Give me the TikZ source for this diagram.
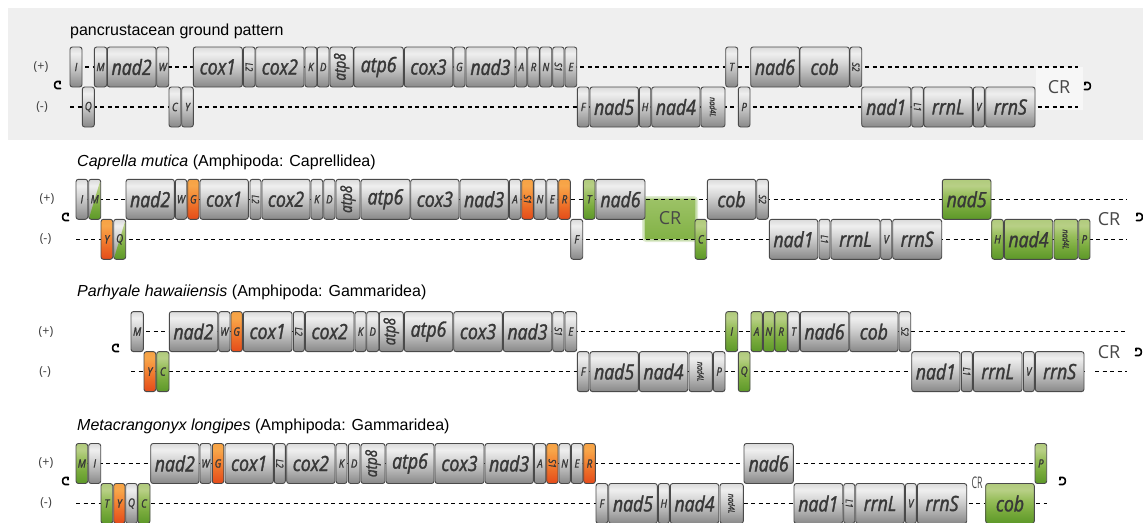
\documentclass[tikz,border=0pt]{standalone}
\usepackage{fontspec}
\setmainfont{Liberation Sans}
\newfontfamily\genefont[FakeStretch=0.84,FakeBold=1.6]{Open Sans}
\newfontfamily\labfont{Open Sans}

% colours
\definecolor{panelbg}{HTML}{EFEFEF}
\definecolor{crbg}{HTML}{F7F7F7}
\definecolor{boxline}{HTML}{4A4A4A}
\definecolor{labtext}{HTML}{383838}
\definecolor{gb0}{HTML}{888888}
\definecolor{gb1}{HTML}{B0B0B0}
\definecolor{gb2}{HTML}{D6D6D6}
\definecolor{gb3}{HTML}{EFEFEF}
\definecolor{gb4}{HTML}{DADADA}
\definecolor{ob0}{HTML}{E44B1A}
\definecolor{ob1}{HTML}{EC6A26}
\definecolor{ob2}{HTML}{F58C38}
\definecolor{ob3}{HTML}{F8A64A}
\definecolor{ob4}{HTML}{F6A244}
\definecolor{gr0}{HTML}{5C9828}
\definecolor{gr1}{HTML}{78AA3C}
\definecolor{gr2}{HTML}{98BE5C}
\definecolor{gr3}{HTML}{B8D086}
\definecolor{gr4}{HTML}{B0CA7C}
\definecolor{crgreen}{HTML}{82B246}
\definecolor{crgreenlt}{HTML}{9CC266}

% glossy vertical shadings for the gene boxes
\pgfdeclareverticalshading{greysh}{100bp}{color(0bp)=(gb0); color(25bp)=(gb0); color(40bp)=(gb1); color(55bp)=(gb2); color(67bp)=(gb3); color(75bp)=(gb4); color(100bp)=(gb4)}
\pgfdeclareverticalshading{orangesh}{100bp}{color(0bp)=(ob0); color(25bp)=(ob0); color(40bp)=(ob1); color(55bp)=(ob2); color(67bp)=(ob3); color(75bp)=(ob4); color(100bp)=(ob4)}
\pgfdeclareverticalshading{greensh}{100bp}{color(0bp)=(gr0); color(25bp)=(gr0); color(40bp)=(gr1); color(55bp)=(gr2); color(67bp)=(gr3); color(75bp)=(gr4); color(100bp)=(gr4)}

\tikzset{
  boxborder/.style={draw=boxline, line width=0.9pt, rounded corners=2.4pt},
  genelab/.style={inner sep=0pt, text=labtext},
  strandline/.style={line width=1.2pt, dash pattern=on 4pt off 3.5pt, black},
  strandlab/.style={font=\labfont\fontsize{12.5}{12.5}\selectfont, text=black!75, inner sep=0pt},
  titlelab/.style={font=\fontsize{16}{16}\selectfont, anchor=base west, inner sep=0pt},
  crlab/.style={font=\labfont\fontsize{18}{18}\selectfont, text=black!72, inner sep=0pt},
  hookpen/.style={line width=1.6pt, black, line cap=round}
}

% label formats
\newcommand{\Lg}[1]{{\genefont\itshape\fontsize{21}{21}\selectfont #1}}
\newcommand{\Lt}[1]{{\genefont\itshape\fontsize{11.5}{11.5}\selectfont #1}}
\newcommand{\Lr}[1]{\rotatebox{-90}{\genefont\itshape\fontsize{10}{10}\selectfont #1}}
\newcommand{\Lat}{\rotatebox{90}{\genefont\itshape\fontsize{16}{16}\selectfont atp8}}
\newcommand{\Lfl}{\rotatebox{-90}{\genefont\itshape\fontsize{8.5}{8.5}\selectfont nad4L}}

% gene box: [shading] {name} {x left} {x right} {y centre} {label}
\newcommand{\gbox}[6][grey]{%
  \shade[shading=#1sh, rounded corners=2.4pt] (#3,#5-20) rectangle (#4,#5+20);
  \draw[boxborder] (#3,#5-20) rectangle (#4,#5+20);
  \node[genelab] (#2) at ({(#3+#4)/2},#5) {#6};}
% gene box split diagonally: grey upper left, green lower right
\newcommand{\mixbox}[5]{%
  \shade[shading=greysh, rounded corners=2.4pt] (#2,#4-20) rectangle (#3,#4+20);
  \begin{scope}
    \clip[rounded corners=2.4pt] (#2,#4-20) rectangle (#3,#4+20);
    \shade[shading=greensh] (#2,#4+20) -- (#3,#4-20) -- (#3,#4+20) -- cycle;
  \end{scope}
  \draw[boxborder] (#2,#4-20) rectangle (#3,#4+20);
  \node[genelab] (#1) at ({(#2+#3)/2},#4) {#5};}
% circular genome hooks
\newcommand{\hookleft}[2]{%
  \draw[hookpen] (#1+5,#2-3.5) -- (#1+2,#2-3.5) .. controls (#1-1.2,#2-3.5) and (#1-1.2,#2+3.5) .. (#1+2,#2+3.5) -- (#1+5.5,#2+3.5);
  \draw[hookpen] (#1+5,#2-3.5) -- (#1+5,#2-1.2);}
\newcommand{\hookright}[2]{%
  \draw[hookpen] (#1-5,#2-3.5) -- (#1-2,#2-3.5) .. controls (#1+1.2,#2-3.5) and (#1+1.2,#2+3.5) .. (#1-2,#2+3.5) -- (#1-5.5,#2+3.5);
  \draw[hookpen] (#1-5,#2-3.5) -- (#1-5,#2-1.2);}

\begin{document}
\begin{tikzpicture}[x=1pt,y=-1pt]
\useasboundingbox (0,0) rectangle (1143,522);
\fill[white] (0,0) rectangle (1143,522);

%% ---------------- pancrustacean ground pattern ----------------
\fill[panelbg] (8,8) rectangle (1143,140);
\fill[crbg] (1036,67) rectangle (1083,110);
\node[titlelab] (t1) at (70,35) {pancrustacean ground pattern};
\node[strandlab] (p1plus) at (41,67) {(+)};
\node[strandlab] (p1minus) at (42,107) {(-)};
\draw[strandline] (70,67) -- (1078,67);
\draw[strandline] (70,107) -- (1078,107);
\hookleft{55}{85}
\hookright{1090}{86}
\node[crlab] (p1cr) at (1059,87) {CR};
% (+) strand
\gbox{p1I}{70}{82}{67}{\Lt{I}}
\gbox{p1M}{94.3}{106.7}{67}{\Lt{M}}
\gbox{p1nad2}{107.3}{156}{67}{\Lg{nad2}}
\gbox{p1W}{156.7}{168.7}{67}{\Lt{W}}
\gbox{p1cox1}{193.3}{242.3}{67}{\Lg{cox1}}
\gbox{p1L2}{243.3}{255}{67}{\Lr{L2}}
\gbox{p1cox2}{255.7}{304}{67}{\Lg{cox2}}
\gbox{p1K}{305}{316.7}{67}{\Lt{K}}
\gbox{p1D}{317.3}{329}{67}{\Lt{D}}
\gbox{p1atp8}{330}{353.3}{67}{\Lat}
\gbox{p1atp6}{354}{403.3}{67}{\Lg{atp6}}
\gbox{p1cox3}{404.3}{452.7}{67}{\Lg{cox3}}
\gbox{p1G}{453.7}{465}{67}{\Lt{G}}
\gbox{p1nad3}{466}{515}{67}{\Lg{nad3}}
\gbox{p1A}{516}{526.7}{67}{\Lt{A}}
\gbox{p1R}{527.7}{539.3}{67}{\Lt{R}}
\gbox{p1N}{540}{551.7}{67}{\Lt{N}}
\gbox{p1S1}{552.7}{564}{67}{\Lr{S1}}
\gbox{p1E}{565}{576.7}{67}{\Lt{E}}
\gbox{p1T}{725.7}{737.7}{67}{\Lt{T}}
\gbox{p1nad6}{750.7}{799.3}{67}{\Lg{nad6}}
\gbox{p1cob}{800}{849.3}{67}{\Lg{cob}}
\gbox{p1S2}{850}{861.7}{67}{\Lr{S2}}
% (-) strand
\gbox{p1Q}{82.3}{94.3}{107}{\Lt{Q}}
\gbox{p1C}{169}{180.7}{107}{\Lt{C}}
\gbox{p1Y}{181.7}{193.3}{107}{\Lt{Y}}
\gbox{p1F}{577.3}{589}{107}{\Lt{F}}
\gbox{p1nad5}{590}{638.3}{107}{\Lg{nad5}}
\gbox{p1H}{639.3}{650.7}{107}{\Lt{H}}
\gbox{p1nad4}{651.7}{700}{107}{\Lg{nad4}}
\gbox{p1nad4L}{701}{725}{107}{\Lfl}
\gbox{p1P}{738.3}{750}{107}{\Lt{P}}
\gbox{p1nad1}{861.7}{910.7}{107}{\Lg{nad1}}
\gbox{p1L1}{911.7}{923.3}{107}{\Lr{L1}}
\gbox{p1rrnL}{924}{972.3}{107}{\Lg{rrnL}}
\gbox{p1V}{973.3}{984.3}{107}{\Lt{V}}
\gbox{p1rrnS}{985.7}{1035}{107}{\Lg{rrnS}}

%% ---------------- Caprella mutica ----------------
\node[titlelab] (t2) at (77,166) {\textit{Caprella mutica} (Amphipoda: Caprellidea)};
\node[strandlab] (p2plus) at (47,199.3) {(+)};
\node[strandlab] (p2minus) at (45.5,239.3) {(-)};
% control region between nad6 and cob
\fill[crgreen, opacity=0.25, rounded corners=4pt] (642,196) rectangle (698,242);
\fill[crgreen, opacity=0.35, rounded corners=3pt] (643.5,197.5) rectangle (696.5,240.5);
\shade[top color=crgreenlt, bottom color=crgreen] (645,199.3) rectangle (695,238.3);
\node[crlab] (p2cr) at (670,218.5) {CR};
\draw[strandline] (76,199.3) -- (1127,199.3);
\draw[strandline] (76,239.3) -- (1127,239.3);
\hookleft{63}{217}
\hookright{1142}{217}
\node[crlab] (p2cr2) at (1109,219) {CR};
% (+) strand
\gbox{p2I}{76}{87.7}{199.3}{\Lt{I}}
\mixbox{p2M}{88.7}{100.7}{199.3}{\Lt{M}}
\gbox{p2nad2}{126}{174.3}{199.3}{\Lg{nad2}}
\gbox{p2W}{175.3}{186.7}{199.3}{\Lt{W}}
\gbox[orange]{p2G}{187.7}{199}{199.3}{\Lt{G}}
\gbox{p2cox1}{200}{248.3}{199.3}{\Lg{cox1}}
\gbox{p2L2}{250}{261}{199.3}{\Lr{L2}}
\gbox{p2cox2}{262}{310}{199.3}{\Lg{cox2}}
\gbox{p2K}{311}{322.7}{199.3}{\Lt{K}}
\gbox{p2D}{323.7}{335}{199.3}{\Lt{D}}
\gbox{p2atp8}{336}{360}{199.3}{\Lat}
\gbox{p2atp6}{361}{410}{199.3}{\Lg{atp6}}
\gbox{p2cox3}{410.7}{459}{199.3}{\Lg{cox3}}
\gbox{p2nad3}{460}{508.3}{199.3}{\Lg{nad3}}
\gbox{p2A}{509.3}{520.7}{199.3}{\Lt{A}}
\gbox[orange]{p2S1}{521.7}{533.3}{199.3}{\Lr{S1}}
\gbox{p2N}{534}{545.7}{199.3}{\Lt{N}}
\gbox{p2E}{546.7}{557.7}{199.3}{\Lt{E}}
\gbox[orange]{p2R}{558.7}{570.3}{199.3}{\Lt{R}}
\gbox[green]{p2T}{583.3}{595}{199.3}{\Lt{T}}
\gbox{p2nad6}{596}{645}{199.3}{\Lg{nad6}}
\gbox{p2cob}{707.3}{755.7}{199.3}{\Lg{cob}}
\gbox{p2S2}{756.7}{768.3}{199.3}{\Lr{S2}}
\gbox[green]{p2nad5}{942.3}{991}{199.3}{\Lg{nad5}}
% (-) strand
\gbox[orange]{p2Y}{101}{112.7}{239.3}{\Lt{Y}}
\mixbox{p2Q}{113.7}{125.7}{239.3}{\Lt{Q}}
\gbox{p2F}{570.7}{582.7}{239.3}{\Lt{F}}
\gbox[green]{p2C}{695}{706.7}{239.3}{\Lt{C}}
\gbox{p2nad1}{769.3}{817.7}{239.3}{\Lg{nad1}}
\gbox{p2L1}{819}{830}{239.3}{\Lr{L1}}
\gbox{p2rrnL}{831}{880}{239.3}{\Lg{rrnL}}
\gbox{p2V}{880.7}{891.7}{239.3}{\Lt{V}}
\gbox{p2rrnS}{892.7}{941.7}{239.3}{\Lg{rrnS}}
\gbox[green]{p2H}{991.7}{1003.3}{239.3}{\Lt{H}}
\gbox[green]{p2nad4}{1004.3}{1052.7}{239.3}{\Lg{nad4}}
\gbox[green]{p2nad4L}{1054}{1077.7}{239.3}{\Lfl}
\gbox[green]{p2P}{1078.7}{1090}{239.3}{\Lt{P}}

%% ---------------- Parhyale hawaiiensis ----------------
\node[titlelab] (t3) at (77,296.7) {\textit{Parhyale hawaiiensis} (Amphipoda: Gammaridea)};
\node[strandlab] (p3plus) at (46,331.6) {(+)};
\node[strandlab] (p3minus) at (45,371.6) {(-)};
\draw[strandline] (131,331.6) -- (1127,331.6);
\draw[strandline] (131,371.6) -- (1084,371.6);
\draw[strandline] (1095,371.6) -- (1127,371.6);
\hookleft{113}{348}
\hookright{1141}{352}
\node[crlab] (p3cr) at (1109,351.7) {CR};
% (+) strand
\gbox{p3M}{131}{143.3}{331.6}{\Lt{M}}
\gbox{p3nad2}{169.3}{217.7}{331.6}{\Lg{nad2}}
\gbox{p3W}{218.7}{230}{331.6}{\Lt{W}}
\gbox[orange]{p3G}{231}{242.3}{331.6}{\Lt{G}}
\gbox{p3cox1}{243.3}{292}{331.6}{\Lg{cox1}}
\gbox{p3L2}{293.3}{304.3}{331.6}{\Lr{L2}}
\gbox{p3cox2}{305.3}{354}{331.6}{\Lg{cox2}}
\gbox{p3K}{355}{366}{331.6}{\Lt{K}}
\gbox{p3D}{366.7}{378.7}{331.6}{\Lt{D}}
\gbox{p3atp8}{379.3}{403.3}{331.6}{\Lat}
\gbox{p3atp6}{404.3}{452.7}{331.6}{\Lg{atp6}}
\gbox{p3cox3}{453.7}{502.3}{331.6}{\Lg{cox3}}
\gbox{p3nad3}{503.3}{551.7}{331.6}{\Lg{nad3}}
\gbox{p3S1}{552.7}{564}{331.6}{\Lr{S1}}
\gbox{p3E}{565}{576.7}{331.6}{\Lt{E}}
\gbox[green]{p3I}{725.7}{737.7}{331.6}{\Lt{I}}
\gbox[green]{p3A}{751}{762.3}{331.6}{\Lt{A}}
\gbox[green]{p3N}{763.3}{774.3}{331.6}{\Lt{N}}
\gbox[green]{p3R}{775}{787.3}{331.6}{\Lt{R}}
\gbox{p3T}{788}{799.3}{331.6}{\Lt{T}}
\gbox{p3nad6}{800.3}{848.7}{331.6}{\Lg{nad6}}
\gbox{p3cob}{849.7}{898}{331.6}{\Lg{cob}}
\gbox{p3S2}{899}{910.7}{331.6}{\Lr{S2}}
% (-) strand
\gbox[orange]{p3Y}{144}{155.7}{371.6}{\Lt{Y}}
\gbox[green]{p3C}{156.7}{169}{371.6}{\Lt{C}}
\gbox{p3F}{577.3}{589}{371.6}{\Lt{F}}
\gbox{p3nad5}{590}{638.3}{371.6}{\Lg{nad5}}
\gbox{p3nad4}{639.3}{687.7}{371.6}{\Lg{nad4}}
\gbox{p3nad4L}{689}{712.3}{371.6}{\Lfl}
\gbox{p3P}{713.3}{725}{371.6}{\Lt{P}}
\gbox[green]{p3Q}{738.3}{750}{371.6}{\Lt{Q}}
\gbox{p3nad1}{911.7}{960}{371.6}{\Lg{nad1}}
\gbox{p3L1}{961.3}{972.3}{371.6}{\Lr{L1}}
\gbox{p3rrnL}{973.3}{1022}{371.6}{\Lg{rrnL}}
\gbox{p3V}{1023.3}{1034.3}{371.6}{\Lt{V}}
\gbox{p3rrnS}{1035.3}{1084}{371.6}{\Lg{rrnS}}

%% ---------------- Metacrangonyx longipes ----------------
\node[titlelab] (t4) at (77,430) {\textit{Metacrangonyx longipes} (Amphipoda: Gammaridea)};
\node[strandlab] (p4plus) at (46,463.5) {(+)};
\node[strandlab] (p4minus) at (46,503.5) {(-)};
\draw[strandline] (76,463.5) -- (1035,463.5);
\draw[strandline] (76,503.5) -- (1047,503.5);
\hookleft{63}{481}
\hookright{1065}{481}
\node[crlab, xscale=0.55, font=\labfont\fontsize{16}{16}\selectfont] (p4cr) at (977,483) {CR};
% (+) strand
\gbox[green]{p4M}{76}{87.7}{463.5}{\Lt{M}}
\gbox{p4I}{88.7}{100.7}{463.5}{\Lt{I}}
\gbox{p4nad2}{150.7}{199}{463.5}{\Lg{nad2}}
\gbox{p4W}{200}{211}{463.5}{\Lt{W}}
\gbox[orange]{p4G}{212.3}{223.7}{463.5}{\Lt{G}}
\gbox{p4cox1}{225}{273.3}{463.5}{\Lg{cox1}}
\gbox{p4L2}{274.3}{285.3}{463.5}{\Lr{L2}}
\gbox{p4cox2}{286.7}{335}{463.5}{\Lg{cox2}}
\gbox{p4K}{336}{347}{463.5}{\Lt{K}}
\gbox{p4D}{348.3}{360}{463.5}{\Lt{D}}
\gbox{p4atp8}{361}{385}{463.5}{\Lat}
\gbox{p4atp6}{386}{434}{463.5}{\Lg{atp6}}
\gbox{p4cox3}{435}{484}{463.5}{\Lg{cox3}}
\gbox{p4nad3}{485}{533.3}{463.5}{\Lg{nad3}}
\gbox{p4A}{534.3}{545.7}{463.5}{\Lt{A}}
\gbox[orange]{p4S1}{546.7}{558}{463.5}{\Lr{S1}}
\gbox{p4N}{559}{570.3}{463.5}{\Lt{N}}
\gbox{p4E}{571.3}{582.7}{463.5}{\Lt{E}}
\gbox[orange]{p4R}{583.7}{595.3}{463.5}{\Lt{R}}
\gbox{p4nad6}{744}{793.3}{463.5}{\Lg{nad6}}
\gbox[green]{p4P}{1035}{1046.7}{463.5}{\Lt{P}}
% (-) strand
\gbox[green]{p4T}{101}{112.7}{503.5}{\Lt{T}}
\gbox[orange]{p4Y}{113.7}{125}{503.5}{\Lt{Y}}
\gbox{p4Q}{125.7}{137.3}{503.5}{\Lt{Q}}
\gbox[green]{p4C}{138}{150}{503.5}{\Lt{C}}
\gbox{p4F}{596}{607.7}{503.5}{\Lt{F}}
\gbox{p4nad5}{608.7}{657.3}{503.5}{\Lg{nad5}}
\gbox{p4H}{658.3}{669.3}{503.5}{\Lt{H}}
\gbox{p4nad4}{670.3}{718.7}{503.5}{\Lg{nad4}}
\gbox{p4nad4L}{720}{743.3}{503.5}{\Lfl}
\gbox{p4nad1}{794}{842.7}{503.5}{\Lg{nad1}}
\gbox{p4L1}{843.7}{854.7}{503.5}{\Lr{L1}}
\gbox{p4rrnL}{855.7}{904.3}{503.5}{\Lg{rrnL}}
\gbox{p4V}{905.3}{916.3}{503.5}{\Lt{V}}
\gbox{p4rrnS}{917.3}{966.7}{503.5}{\Lg{rrnS}}
\gbox[green]{p4cob}{985.7}{1034.3}{503.5}{\Lg{cob}}
\end{tikzpicture}
\end{document}
